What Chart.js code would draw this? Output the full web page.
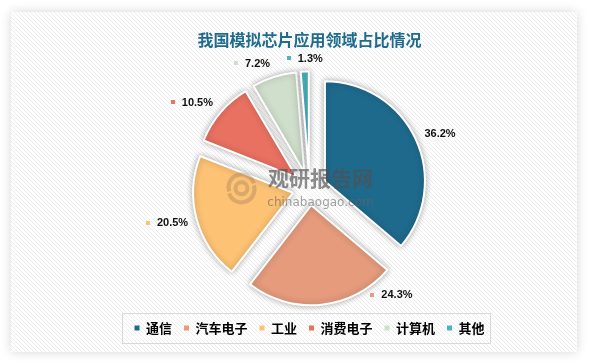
<!DOCTYPE html>
<html>
<head>
<meta charset="utf-8">
<script src="https://cdn.jsdelivr.net/npm/chart.js@4/dist/chart.umd.min.js"></script>
<style>
  html, body { margin: 0; padding: 0; background: #fff; }
</style>
</head>
<body>
<canvas id="chart" width="591" height="362"></canvas>
<script>
// 数据
const categories = ['通信', '汽车电子', '工业', '消费电子', '计算机', '其他'];
const shares = [36.2, 24.3, 20.5, 10.5, 7.2, 1.3];
const shareLabels = ['36.2%', '24.3%', '20.5%', '10.5%', '7.2%', '1.3%'];
const chartTitle = '我国模拟芯片应用领域占比情况';

const colors = ['#1e6a8d', '#e59b7c', '#fdc274', '#e97161', '#d0dfcc', '#4bb5c1'];
const cjk = '"Noto Sans CJK SC", "Microsoft YaHei", sans-serif';

// 背景：带阴影的斜纹面板
const background = {
    id: 'background',
    beforeDraw(chart) {
        const ctx = chart.ctx;
        const w = chart.width, h = chart.height;
        ctx.save();
        ctx.fillStyle = '#ffffff';
        ctx.fillRect(0, 0, w, h);
        ctx.shadowColor = 'rgba(0,0,0,0.16)';
        ctx.shadowBlur = 10;
        ctx.fillRect(11, 12, 566, 340);
        ctx.shadowColor = 'transparent';
        ctx.beginPath();
        ctx.rect(11, 12, 566, 340);
        ctx.clip();
        ctx.strokeStyle = '#ededed';
        ctx.lineWidth = 1;
        for (let k = -h; k < w; k += 4) {
            ctx.beginPath();
            ctx.moveTo(k, 0);
            ctx.lineTo(k + h, h);
            ctx.stroke();
        }
        ctx.restore();
    }
};

// 扇区分离 + 阴影（仍由 Chart.js 的 arc 元素绘制）
const explodeSlices = {
    id: 'explodeSlices',
    beforeDatasetDraw(chart, args, opts) {
        const ctx = chart.ctx;
        ctx.save();
        ctx.shadowColor = 'rgba(0,0,0,0.3)';
        ctx.shadowBlur = 6;
        args.meta.data.forEach(arc => {
            const mid = (arc.startAngle + arc.endAngle) / 2;
            ctx.save();
            ctx.translate(Math.cos(mid) * opts.distance, Math.sin(mid) * opts.distance);
            arc.draw(ctx);
            ctx.restore();
        });
        ctx.restore();
        return false;
    }
};

// 水印 + 数据标签
const sliceLabels = {
    id: 'sliceLabels',
    afterDatasetsDraw(chart, args, opts) {
        const ctx = chart.ctx;
        const meta = chart.getDatasetMeta(0);
        const c = meta.data[0];
        ctx.save();
        // 水印
        ctx.textAlign = 'center';
        ctx.textBaseline = 'middle';
        ctx.fillStyle = 'rgba(80,80,80,0.65)';
        ctx.font = 'bold 21px ' + cjk;
        ctx.fillText('观研报告网', c.x + 11, c.y - 10);
        ctx.fillStyle = 'rgba(100,100,100,0.6)';
        ctx.font = '12px "DejaVu Sans", sans-serif';
        ctx.fillText('chinabaogao.com', c.x + 11, c.y + 15);
        ctx.strokeStyle = 'rgba(150,120,90,0.35)';
        ctx.lineWidth = 4;
        ctx.beginPath();
        ctx.arc(c.x - 68, c.y - 1, 13, Math.PI * 0.9, Math.PI * 1.9);
        ctx.stroke();
        ctx.beginPath();
        ctx.arc(c.x - 68, c.y + 1, 13, -Math.PI * 0.1, Math.PI * 0.9);
        ctx.stroke();
        ctx.beginPath();
        ctx.arc(c.x - 68, c.y, 6, 0, Math.PI * 2);
        ctx.stroke();

        // 百分比标签
        ctx.font = 'bold 11px "Liberation Sans", Arial, sans-serif';
        ctx.textAlign = 'left';
        meta.data.forEach((arc, i) => {
            const mid = (arc.startAngle + arc.endAngle) / 2;
            const ax = arc.x + Math.cos(mid) * opts.explode;
            const ay = arc.y + Math.sin(mid) * opts.explode;
            const a = mid + opts.turn[i] * Math.PI / 180;
            const d = arc.outerRadius + opts.gap[i];
            const cx = ax + Math.cos(a) * d;
            const cy = ay + Math.sin(a) * d;
            const text = shareLabels[i];
            const tw = ctx.measureText(text).width;
            const mark = opts.marker[i];
            let x = cx - (mark ? 11 + tw : tw) / 2;
            if (mark) {
                ctx.fillStyle = colors[i];
                ctx.fillRect(Math.round(x), Math.round(cy - 2), 4, 4);
                x += 11;
            }
            ctx.fillStyle = '#111111';
            ctx.fillText(text, x, cy + 0.5);
        });
        ctx.restore();
    }
};

// 图例边框
const legendFrame = {
    id: 'legendFrame',
    afterDraw(chart) {
        const boxes = chart.legend.legendHitBoxes;
        if (!boxes || !boxes.length) return;
        const first = boxes[0], last = boxes[boxes.length - 1];
        const cy = first.top + first.height / 2;
        const ctx = chart.ctx;
        ctx.save();
        ctx.strokeStyle = '#d9d9d9';
        ctx.lineWidth = 1;
        ctx.strokeRect(Math.round(first.left - 12) + 0.5, Math.round(cy - 15) + 0.5,
            Math.round(last.left + last.width + 6 - (first.left - 12)), 30);
        ctx.restore();
    }
};

const explode = 17;

const chart = new Chart(document.getElementById('chart'), {
    type: 'pie',
    data: {
        labels: categories,
        datasets: [{
            data: shares,
            backgroundColor: colors,
            borderColor: '#ffffff',
            borderWidth: 2
        }]
    },
    options: {
        responsive: false,
        animation: false,
        radius: 100,
        layout: { padding: { left: 28, right: 0, top: 30, bottom: 17.5 } },
        plugins: {
            title: {
                display: true,
                text: chartTitle,
                color: '#1f6b8c',
                font: { size: 16, weight: 'bold', family: cjk },
                padding: { top: 0, bottom: 18 }
            },
            legend: {
                position: 'bottom',
                labels: {
                    boxWidth: 5,
                    boxHeight: 5,
                    padding: 12,
                    color: '#404040',
                    font: { size: 13, weight: 'bold', family: cjk },
                    generateLabels: () => categories.map((name, i) => ({
                        text: name,
                        fillStyle: colors[i],
                        strokeStyle: colors[i],
                        lineWidth: 0,
                        index: i
                    }))
                }
            },
            tooltip: { enabled: false },
            explodeSlices: { distance: explode },
            sliceLabels: {
                explode: explode,
                turn: [2.3, -36, 1.9, -4.9, -8, 0.3],
                gap: [24.6, 20, 29.6, 28.7, 21, 13],
                marker: [false, true, true, true, true, true]
            }
        }
    },
    plugins: [background, explodeSlices, sliceLabels, legendFrame]
});
</script>
</body>
</html>
